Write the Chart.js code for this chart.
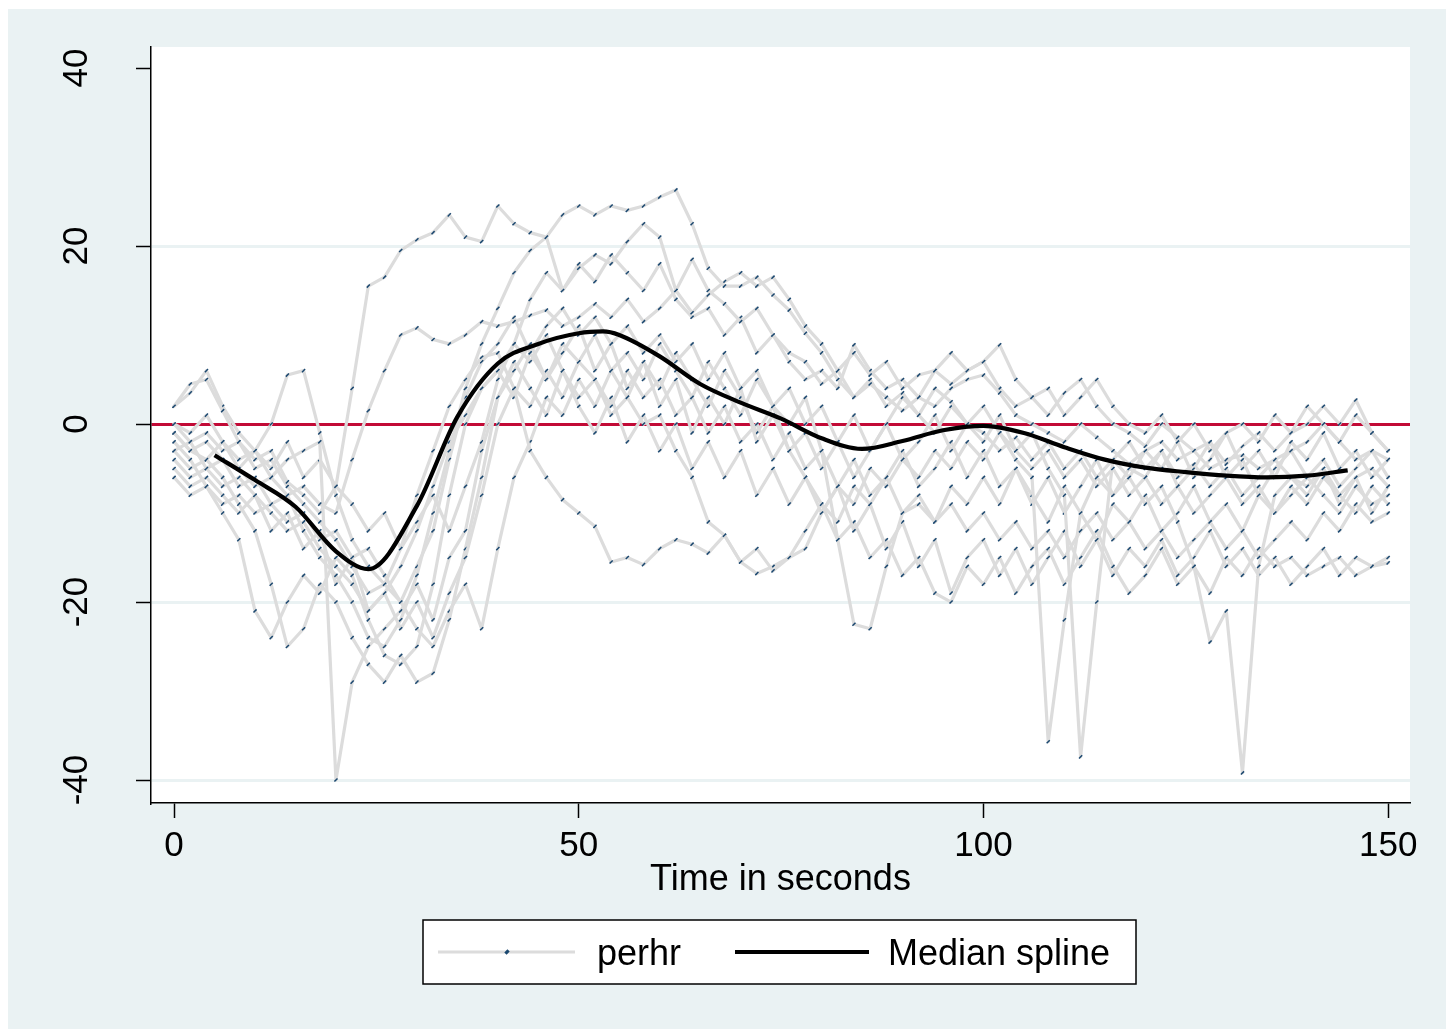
<!DOCTYPE html>
<html>
<head>
<meta charset="utf-8">
<script src="https://cdn.jsdelivr.net/npm/chart.js@4.4.0/dist/chart.umd.min.js"></script>
<style>
html,body{margin:0;padding:0;background:#fff;}
canvas{display:block;}
</style>
</head>
<body>
<canvas id="c" width="1446" height="1029"></canvas>
<script>
// ---- data ----
const time = [0,2,4,6,8,10,12,14,16,18,20,22,24,26,28,30,32,34,36,38,40,42,44,46,48,50,52,54,56,58,60,62,64,66,68,70,72,74,76,78,80,82,84,86,88,90,92,94,96,98,100,102,104,106,108,110,112,114,116,118,120,122,124,126,128,130,132,134,136,138,140,142,144,146,148,150];

const S1 = [2,4.5,5,1.5,-2,-4,-3,-6.5,-8,-10,
 -7,4,15.5,16.5,19.5,20.7,21.5,23.5,21,20.5,
 24.5,22.5,21.5,21,23.5,24.5,23.5,24.5,24,24.5,
 25.5,26.3,22.5,17.5,15.5,15.5,16.5,14.5,12.8,10.2,
 8,5,3,4.5,3,1.5,3,2,4,5,
 5.5,3.5,1,0,-1,-2,0,-1.5,-3,-4.5,
 -3,-2,-4,-3,-5,-4,-3.5,-5,-4,-3,
 -2,0,-2,-4,-3,-4];
const S2 = [-1,-3,-2,-4,-5,-3,-6,-8,-7,-9,
 -10,-4,1.5,6,10,10.8,9.5,9,10,11.5,
 11,11.5,12.2,12.8,11,12,13.5,12,14,11.5,
 13,15,12.5,14.5,16,17,15.5,16.5,14,11,
 9,6,8,5.5,7,4,5.5,6,4.5,6,
 7,4,2,3,1,3.5,5,2,0,-1,
 -2.5,0,-1.5,-3,-2,-4.5,-2.5,-1,-3,-1,
 0,2,0,2.7,-1,-3];
const S3 = [-3,-2,-5,-4,-7,-6,-9,-8,-12,-15,
 -17,-20,-24,-25,-22,-17,-10,-3,4,9,
 13,17,19.5,21,15,17.5,19,18,20.5,22.5,
 21,15,18.5,15,13.5,11.5,13,10,8,7,
 4.5,6,3,5,2,3.5,1,4,2.5,0,
 -1,-3,-1.5,-4,-2,-5,-3,-6,-4,-2,
 -5,-3,-6,-4.5,-7,-5,-8,-6,-4,-6,
 -7,-5,-8,-6,-5,-7];
const S4 = [0,-2,-1,-3,-2,-5,-4,-7,-9,-11,
 -13,-16,-19,-18,-14,-8,-3,2,5,7.5,
 8,4,-3,-6,-8.5,-10,-11.5,-15.5,-15,-15.8,
 -14,-13,-13.5,-14.5,-12.5,-15.5,-14,-16.5,-15,-14,
 -10,-7,-9,-5,-7,-4,-6,-3,-5,-2,
 -4,-1,-3,-5,-3,-6,-4,-7,-5,-8,
 -6,-9,-7,-10,-8,-6,-9,-7,-10,-8,
 -6,-8,-10,-7,-9,-8];
const S5 = [-4,-6,-5,-7,-6,-8,-10,-12,-11,-14,
 -16,-18,-21,-19,-16,-12,-7,-2,1,4,
 6,9,7,10,6,3,5,1,3,0,
 1,-3,-6,-11,-12.5,-15.5,-16.8,-16,-15,-12,
 -9,-11,-7,-9,-6,-10,-8,-11,-9,-12,
 -10,-13,-11,-14,-12,-15,-12,-10,-13,-11,
 -14,-12,-15,-13,-11,-14,-12,-15,-13,-11,
 -13,-10,-12,-9,-11,-10];
const S6 = [-1,-3,-4,-2,-5,-7,-6,-4,-3,-2,
 -40,-29,-25,-23,-21,-18,-22,-15,-12,-3,
 3,6,9,5,8,11,6,9,4,7,
 2,5,-1,3,0,4,-2,1,-3,-1,
 -5,-2,-6,-3,0,-4,-2,1,-3,0,
 2,-1,-4,-6,-35.7,-22,-10,-6,-8,-5,
 -6,-3,-7,-5,-2,-6,-4,-8,-5,-3,
 -6,-4,-7,-5,-3,-6];
const S7 = [-2,-4,-7,-10,-13,-21,-24,-20,-17,-19,
 -15,-17,-22,-26,-27,-25,-18,-8,0,4,
 6,3,8,5,9,7,10,6,8,5,
 9,6,3,7,4,1,5,2,0,3,
 -3,-13,-22.5,-23,-16,-10,-9,-11,-7,-9,
 -6,-9,-5,-8,-11,-7,-10,-13,-9,-11,
 -8,-12,-10,-7,-11,-9,-12,-8,-10,-7,
 -9,-6,-8,-10,-7,-9];
const S8 = [2,3.5,6,2,-1,-3,0,5.5,6,-1,
 -8,-13,-16,-18,-20,-16,-12,-4,3,7,
 9,12,8,11,13,10,12,9,11,8,
 10,7,9,5,8,4,6,2,4,0,
 2,-2,1,-3,0,3,1,-1,2,0,
 -2,1,-3,-1,-5,-8,-37.4,-20,-4,-6,
 -3,-5,-2,-6,-4,-1,-5,-3,-6,-2,
 -4,-1,-5,-3,-6,-4];
const S9 = [-5,-7,-6,-8,-10,-8,-12,-10,-14,-12,
 -18,-15,-21,-19,-23,-20,-24,-19,-15,-8,
 0,4,2,6,3,7,5,2,6,3,
 5,1,3,-1,2,-2,0,-4,-1,-5,
 -3,-7,-4,-8,-6,-3,-7,-5,-2,-6,
 -3,-7,-5,-9,-6,-10,-7,-4,-8,-6,
 -9,-7,-11,-16,-24.5,-21,-39.2,-16,-8,-6,
 -8,-5,-9,-6,-10,-7];
const S10 = [-3,-5,-4,-6,-9,-12,-18,-25,-23,-18,
 -20,-24,-27,-29,-26,-29,-28,-22,-14,-6,
 3,7,4,1,6,2,-1,3,-2,1,
 -3,0,-5,-2,-6,-3,-8,-5,-9,-6,
 -10,-7,-12,-9,-14,-11,-16,-13,-19,-15,
 -13,-17,-14,-18,-15,-12,-16,-13,-17,-14,
 -16,-13,-17,-15,-12,-16,-14,-17,-15,-18,
 -16,-14,-17,-15,-16,-15.6];
const S11 = [0,-1,1,-2,-4,-3,-5,-2,-6,-4,
 -7,-9,-12,-10,-14,-11,-8,-12,-7,-2,
 5,9,14,17,15,18,16,19,17,15,
 18,14,12,13,10,12,8,10,7,5,
 6,4,8.9,6,4,5,3,6,8,6,
 7,8.9,5,3,4,1,3,5,2,0,
 -1,1,-2,0,-3,-1,0,-2,1,-1,
 2,0,-2,1,-1,-3];
const S12 = [-6,-8,-7,-9,-8,-10,-9,-11,-10,-13,
 -12,-15,-14,-17,-20,-23,-25,-21,-18,-23,
 -14,-6,-2,3,1,5,2,6,3,7,
 4,8,5,2,6,3,-1,2,-3,-6,
 -9,-13,-11,-15,-13,-17,-15,-19,-20,-16,
 -18,-15,-19,-16,-14,-18,-15,-12,-16,-19,
 -17,-14,-18,-16,-19,-15,-17,-14,-16,-15,
 -17,-16,-15,-17,-16,-15];

const splineTime = [5,10,15,20,24,30,35,40,45,50,53,55,60,65,70,75,80,85,90,95,100,105,110,115,120,125,130,135,140,145];
const splineVals = [-3.5,-6.3,-9.3,-14.3,-16.3,-9.2,0.8,6.8,9.0,10.2,10.4,10.0,7.6,4.5,2.4,0.6,-1.6,-2.8,-1.9,-0.7,-0.2,-1.0,-2.6,-4.0,-4.9,-5.4,-5.8,-6.0,-5.8,-5.2];

const xTicks = [0,50,100,150];
const yTicks = [-40,-20,0,20,40];
const legendLabels = ['perhr','Median spline'];
const xTitle = 'Time in seconds';

// ---- style ----
const LTBG = 'rgb(234,242,243)';
const GRAY = 'rgb(220,220,220)';
const NAVY = '#1A476F';
const RED = '#C20A36';
const FONT = '"Liberation Sans", Arial, Helvetica, sans-serif';
Chart.defaults.font.family = FONT;
Chart.defaults.color = '#000';

const series = [S1,S2,S3,S4,S5,S6,S7,S8,S9,S10,S11,S12];
const grayStyle = {
  borderColor: GRAY, borderWidth: 3.2, borderJoinStyle: 'round', borderCapStyle: 'round',
  pointStyle: 'line', pointRotation: -45, pointRadius: 2.2,
  pointBorderColor: NAVY, pointBackgroundColor: NAVY, pointBorderWidth: 1.5,
  pointHoverRadius: 0, tension: 0, fill: false, order: 1
};
const datasets = [{
  label: legendLabels[1],
  data: splineTime.map((t, i) => ({x: t, y: splineVals[i]})),
  borderColor: '#000', borderWidth: 4.2, pointRadius: 0, pointHoverRadius: 0,
  borderJoinStyle: 'round',
  cubicInterpolationMode: 'monotone', fill: false, order: 0
}];
series.forEach(s => {
  datasets.push(Object.assign({label: legendLabels[0], data: s.map((v, i) => ({x: time[i], y: v}))}, grayStyle));
});

const bgPlugin = {
  id: 'bg',
  beforeDraw(chart) {
    const c = chart.ctx, a = chart.chartArea;
    c.save();
    c.fillStyle = '#fff'; c.fillRect(0, 0, chart.width, chart.height);
    c.fillStyle = LTBG; c.fillRect(8, 9, chart.width - 8, chart.height - 9);
    c.fillStyle = '#fff'; c.fillRect(a.left, a.top, a.right - a.left, a.bottom - a.top);
    c.restore();
  }
};

const legendPlugin = {
  id: 'stataLegend',
  afterDraw(chart) {
    const c = chart.ctx;
    const bx = 423, by = 920, bw = 713, bh = 64, cy = by + bh / 2;
    c.save();
    c.fillStyle = '#fff'; c.fillRect(bx, by, bw, bh);
    c.strokeStyle = '#000'; c.lineWidth = 1.5; c.strokeRect(bx, by, bw, bh);
    const g = chart.data.datasets[1];
    c.strokeStyle = g.borderColor; c.lineWidth = g.borderWidth;
    c.beginPath(); c.moveTo(438, cy); c.lineTo(575, cy); c.stroke();
    c.strokeStyle = NAVY; c.fillStyle = NAVY;
    Chart.helpers.drawPoint(c, {pointStyle: 'line', radius: g.pointRadius, rotation: g.pointRotation, borderWidth: g.pointBorderWidth}, 507, cy);
    const m = chart.data.datasets[0];
    c.strokeStyle = m.borderColor; c.lineWidth = m.borderWidth;
    c.beginPath(); c.moveTo(735, cy); c.lineTo(869, cy); c.stroke();
    c.fillStyle = '#000'; c.font = '36px ' + FONT; c.textBaseline = 'alphabetic'; c.textAlign = 'left';
    c.fillText(legendLabels[0], 597, cy + 13);
    c.fillText(legendLabels[1], 888, cy + 13);
    c.restore();
  }
};

new Chart(document.getElementById('c'), {
  type: 'line',
  data: { datasets },
  plugins: [bgPlugin, legendPlugin],
  options: {
    responsive: false, animation: false, devicePixelRatio: 1,
    layout: { padding: { left: 0, top: 47, right: 36, bottom: 0 } },
    plugins: { legend: { display: false }, tooltip: { enabled: false } },
    scales: {
      x: {
        type: 'linear', min: -2.85, max: 152.7,
        afterBuildTicks: s => { s.ticks = xTicks.map(v => ({value: v})); },
        afterFit: s => { s.height = 226; s.paddingLeft = 0; s.paddingRight = 0; },
        grid: { display: true, drawOnChartArea: false, drawTicks: true, tickLength: 15, tickColor: '#000', tickWidth: 1.5 },
        border: { display: true, color: '#000', width: 1.5 },
        ticks: { font: { size: 35 }, color: '#000', padding: 7, maxRotation: 0, autoSkip: false },
        title: { display: true, text: xTitle, font: { size: 36 }, color: '#000', padding: { top: 0, bottom: 127 } }
      },
      y: {
        type: 'linear', min: -42.58, max: 42.36,
        afterBuildTicks: s => { s.ticks = yTicks.map(v => ({value: v})); },
        afterFit: s => { s.width = 151; s.paddingTop = 0; s.paddingBottom = 0; },
        grid: {
          display: true, drawTicks: true, tickLength: 15, tickColor: '#000', tickWidth: 1.5,
          color: ctx => (ctx.tick && ctx.tick.value === 0) ? RED : ((ctx.tick && ctx.tick.value === 40) ? 'rgba(0,0,0,0)' : LTBG),
          lineWidth: 3
        },
        border: { display: true, color: '#000', width: 1.5 },
        ticks: { font: { size: 35 }, color: '#000', minRotation: 90, maxRotation: 90, crossAlign: 'center', padding: 33, autoSkip: false }
      }
    }
  }
});
</script>
</body>
</html>
